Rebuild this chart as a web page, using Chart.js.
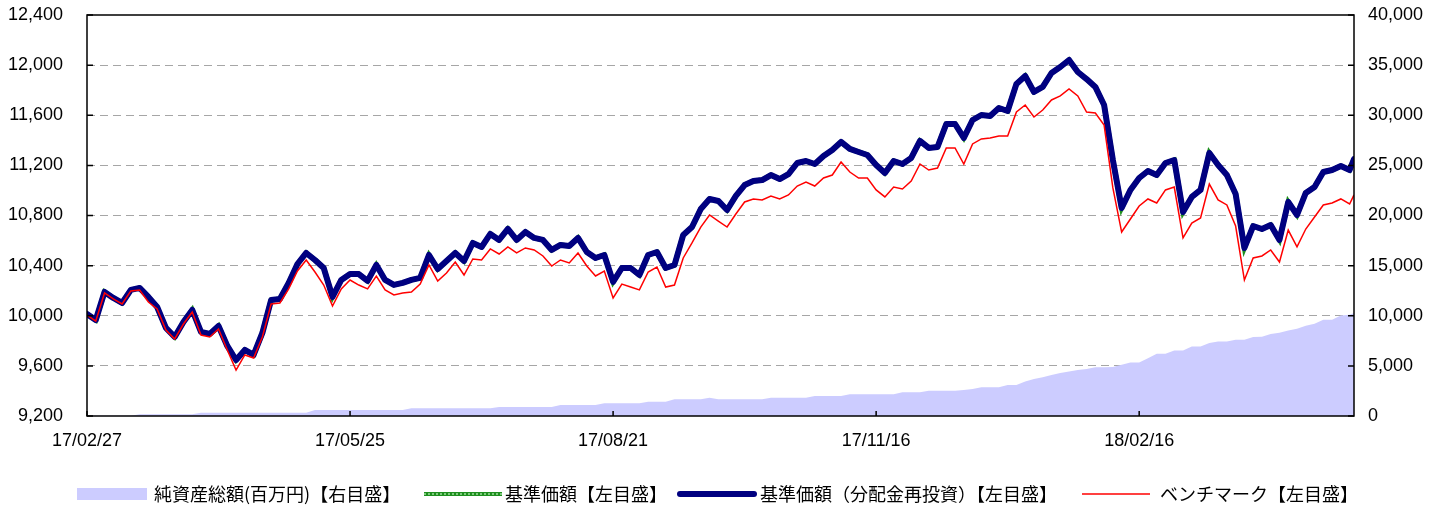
<!DOCTYPE html>
<html>
<head>
<meta charset="utf-8">
<script src="https://cdn.jsdelivr.net/npm/chart.js@4.4.1/dist/chart.umd.min.js"></script>
<style>
  html, body { margin: 0; padding: 0; background: #fff; }
  #wrap { width: 1444px; height: 506px; }
</style>
</head>
<body>
<div id="wrap"><canvas id="chart" width="1444" height="506"></canvas></div>
<script>
// x = trading day index from 17/02/27, one sample every 2 days
const tickDays = [0, 60, 120, 180, 240];
const tickLabels = ['17/02/27', '17/05/25', '17/08/21', '17/11/16', '18/02/16'];
const sampleDays = Array.from({ length: 145 }, (_, i) => i * 2).concat([289]);

const leftTicks = [9200, 9600, 10000, 10400, 10800, 11200, 11600, 12000, 12400];
const rightTicks = [0, 5000, 10000, 15000, 20000, 25000, 30000, 35000, 40000];

// 基準価額(分配金再投資)
const reinvested = [
  10014, 9966, 10190, 10142, 10102, 10206, 10222, 10150, 10070, 9903,
  9831, 9950, 10046, 9871, 9855, 9918, 9759, 9647, 9727, 9687,
  9863, 10126, 10134, 10262, 10413, 10501, 10445, 10381, 10150, 10286,
  10333, 10333, 10278, 10405, 10286, 10246, 10262, 10286, 10302, 10485,
  10373, 10437, 10501, 10437, 10581, 10549, 10653, 10605, 10693, 10605,
  10669, 10621, 10605, 10525, 10565, 10557, 10621, 10509, 10461, 10485,
  10270, 10381, 10381, 10325, 10485, 10509, 10381, 10405, 10645, 10708,
  10852, 10932, 10916, 10844, 10956, 11043, 11075, 11083, 11123, 11091,
  11131, 11219, 11235, 11211, 11275, 11323, 11387, 11331, 11307, 11283,
  11203, 11139, 11235, 11211, 11259, 11395, 11339, 11347, 11530, 11530,
  11419, 11562, 11602, 11594, 11658, 11634, 11850, 11913, 11786, 11826,
  11937, 11985, 12041, 11945, 11889, 11826, 11682, 11243, 10860, 11004,
  11099, 11155, 11123, 11219, 11243, 10828, 10948, 11004, 11299, 11203,
  11123, 10972, 10541, 10716, 10692, 10724, 10605, 10908, 10804, 10980,
  11028, 11147, 11163, 11195, 11163, 11251
];
// 基準価額 (no distribution paid, same as reinvested)
const basePrice = reinvested;

// ベンチマーク
const benchmark = [
  10006, 9958, 10182, 10134, 10094, 10198, 10206, 10110, 10054, 9886,
  9815, 9934, 10030, 9846, 9830, 9894, 9727, 9567, 9687, 9663,
  9830, 10094, 10102, 10214, 10357, 10445, 10349, 10245, 10078, 10214,
  10285, 10245, 10214, 10317, 10206, 10166, 10182, 10190, 10253, 10405,
  10277, 10341, 10429, 10325, 10453, 10445, 10533, 10493, 10549, 10501,
  10541, 10525, 10477, 10397, 10445, 10421, 10501, 10397, 10317, 10357,
  10142, 10253, 10229, 10206, 10349, 10389, 10229, 10245, 10461, 10581,
  10708, 10804, 10756, 10708, 10812, 10908, 10932, 10924, 10956, 10932,
  10964, 11035, 11067, 11035, 11099, 11123, 11227, 11147, 11099, 11099,
  11004, 10948, 11027, 11012, 11075, 11211, 11163, 11179, 11339, 11339,
  11211, 11371, 11411, 11419, 11434, 11434, 11626, 11682, 11586, 11642,
  11722, 11754, 11810, 11754, 11626, 11618, 11522, 11020, 10668, 10772,
  10876, 10932, 10900, 11004, 11027, 10621, 10740, 10780, 11051, 10924,
  10884, 10716, 10285, 10461, 10477, 10525, 10429, 10684, 10549, 10692,
  10788, 10884, 10900, 10932, 10892, 10964
];

// 純資産総額(百万円)
const netAssets = [
  30, 30, 30, 30, 30, 30, 170, 170, 170, 170,
  170, 170, 170, 330, 330, 330, 330, 330, 330, 330,
  330, 330, 330, 330, 330, 330, 600, 600, 600, 600,
  600, 600, 600, 600, 600, 600, 600, 770, 770, 770,
  770, 770, 770, 770, 770, 770, 770, 900, 900, 900,
  900, 900, 900, 900, 1100, 1100, 1100, 1100, 1100, 1270,
  1270, 1270, 1270, 1270, 1430, 1430, 1430, 1670, 1670, 1670,
  1670, 1830, 1670, 1670, 1670, 1670, 1670, 1670, 1830, 1830,
  1830, 1830, 1830, 2000, 2000, 2000, 2000, 2170, 2170, 2170,
  2170, 2170, 2170, 2370, 2370, 2370, 2530, 2530, 2530, 2530,
  2600, 2700, 2870, 2870, 2870, 3100, 3100, 3430, 3700, 3870,
  4100, 4300, 4450, 4580, 4700, 4870, 4870, 4900, 5100, 5330,
  5330, 5770, 6200, 6200, 6530, 6530, 6930, 6930, 7270, 7430,
  7430, 7600, 7600, 7870, 7900, 8170, 8300, 8530, 8700, 9000,
  9200, 9600, 9600, 10030, 10100, 10270
];

const toPoints = arr => sampleDays.map((d, i) => ({ x: d, y: arr[i] }));
const tickFont = { family: '"Liberation Sans", Arial, sans-serif', size: 18 };
const fmt = v => v.toLocaleString('en-US');
const noPad = s => { s.paddingTop = 0; s.paddingBottom = 0; s.paddingLeft = 0; s.paddingRight = 0; };

// frame, inner tick marks and the legend
const decorations = {
  id: 'decorations',
  afterDraw(chart) {
    const { ctx, chartArea: a, scales } = chart;
    ctx.save();
    ctx.strokeStyle = '#000';
    ctx.lineWidth = 1.5;
    ctx.strokeRect(a.left, a.top, a.right - a.left, a.bottom - a.top);
    ctx.beginPath();
    leftTicks.forEach(v => {
      const y = scales.y.getPixelForValue(v);
      ctx.moveTo(a.left, y); ctx.lineTo(a.left + 6, y);
    });
    rightTicks.forEach(v => {
      const y = scales.y2.getPixelForValue(v);
      ctx.moveTo(a.right, y); ctx.lineTo(a.right - 6, y);
    });
    tickDays.forEach(d => {
      const x = scales.x.getPixelForValue(d);
      ctx.moveTo(x, a.bottom); ctx.lineTo(x, a.bottom - 5);
    });
    ctx.stroke();

    // legend
    const ly = 494;
    const ds = chart.data.datasets;
    ctx.font = '18px "Noto Sans CJK JP", sans-serif';
    ctx.textBaseline = 'middle';
    ctx.textAlign = 'left';

    ctx.fillStyle = '#ccccff';
    ctx.fillRect(77, ly - 6, 70, 12);
    ctx.fillStyle = '#000';
    ctx.fillText(ds[0].label, 154, ly);

    ctx.lineCap = 'butt';
    ctx.strokeStyle = '#1f8f1f';
    ctx.lineWidth = 4;
    ctx.beginPath(); ctx.moveTo(424, ly); ctx.lineTo(502, ly); ctx.stroke();
    ctx.strokeStyle = '#9fdf9f';
    ctx.lineWidth = 1.5;
    ctx.setLineDash([2, 2]);
    ctx.beginPath(); ctx.moveTo(424, ly); ctx.lineTo(502, ly); ctx.stroke();
    ctx.setLineDash([]);
    ctx.fillText(ds[1].label, 505, ly);

    ctx.strokeStyle = '#000080';
    ctx.lineWidth = 6;
    ctx.lineCap = 'round';
    ctx.beginPath(); ctx.moveTo(680, ly); ctx.lineTo(754, ly); ctx.stroke();
    ctx.fillText(ds[2].label, 760, ly);

    ctx.strokeStyle = '#ff0000';
    ctx.lineWidth = 1.5;
    ctx.lineCap = 'butt';
    ctx.beginPath(); ctx.moveTo(1082, ly); ctx.lineTo(1150, ly); ctx.stroke();
    ctx.fillText(ds[3].label, 1160, ly);
    ctx.restore();
  }
};

new Chart(document.getElementById('chart'), {
  type: 'line',
  data: {
    datasets: [
      {
        label: '純資産総額(百万円)【右目盛】',
        data: toPoints(netAssets),
        yAxisID: 'y2',
        fill: 'origin',
        backgroundColor: '#ccccff',
        borderWidth: 0,
        pointRadius: 0,
        order: 4
      },
      {
        label: '基準価額【左目盛】',
        data: toPoints(basePrice),
        yAxisID: 'y',
        borderColor: '#1f8f1f',
        borderWidth: 5,
        pointRadius: 0,
        order: 3
      },
      {
        label: '基準価額（分配金再投資）【左目盛】',
        data: toPoints(reinvested),
        yAxisID: 'y',
        borderColor: '#000080',
        borderWidth: 6,
        borderJoinStyle: 'round',
        borderCapStyle: 'round',
        pointRadius: 0,
        order: 2
      },
      {
        label: 'ベンチマーク【左目盛】',
        data: toPoints(benchmark),
        yAxisID: 'y',
        borderColor: '#ff0000',
        borderWidth: 1.5,
        pointRadius: 0,
        order: 1
      }
    ]
  },
  options: {
    responsive: false,
    animation: false,
    devicePixelRatio: 1,
    layout: { padding: { top: 15, left: 0, right: 0, bottom: 0 } },
    elements: { line: { tension: 0 } },
    plugins: { legend: { display: false }, tooltip: { enabled: false } },
    scales: {
      x: {
        type: 'linear',
        min: 0,
        max: 289,
        afterBuildTicks: s => { s.ticks = tickDays.map(v => ({ value: v })); },
        afterFit: s => { s.height = 90; noPad(s); },
        grid: { display: false, drawTicks: false },
        border: { display: false },
        ticks: {
          font: tickFont,
          color: '#000',
          padding: 14,
          maxRotation: 0,
          callback: v => tickLabels[tickDays.indexOf(v)]
        }
      },
      y: {
        position: 'left',
        min: 9200,
        max: 12400,
        afterBuildTicks: s => { s.ticks = leftTicks.map(v => ({ value: v })); },
        afterFit: s => { s.width = 87; noPad(s); },
        grid: {
          drawTicks: false,
          lineWidth: 1,
          color: c => (c.tick.value === 9200 || c.tick.value === 12400) ? 'rgba(0,0,0,0)' : '#a6a6a6'
        },
        border: { display: false, dash: [8, 5] },
        ticks: { font: tickFont, color: '#000', padding: 24, callback: v => fmt(v) }
      },
      y2: {
        position: 'right',
        min: 0,
        max: 40000,
        afterBuildTicks: s => { s.ticks = rightTicks.map(v => ({ value: v })); },
        afterFit: s => { s.width = 90; noPad(s); },
        grid: { display: false, drawTicks: false },
        border: { display: false },
        ticks: { font: tickFont, color: '#000', padding: 14, callback: v => fmt(v) }
      }
    }
  },
  plugins: [decorations]
});
</script>
</body>
</html>
